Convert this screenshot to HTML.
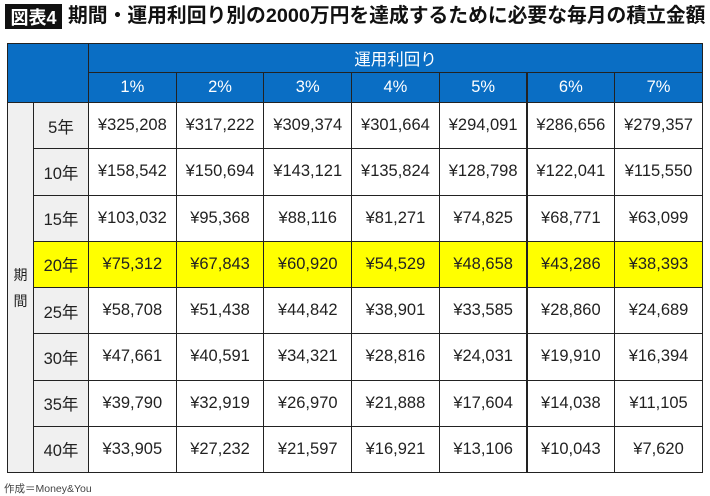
<!DOCTYPE html>
<html><head><meta charset="utf-8">
<style>
body{margin:0;width:710px;height:496px;background:#fff;position:relative;overflow:hidden;font-family:"Liberation Sans","Noto Sans CJK JP",sans-serif;}
.c{position:absolute;box-sizing:border-box;display:flex;align-items:center;justify-content:center;border:1.5px solid #222;font-size:16.5px;color:#222;}
.h{background:#0a6ec4;color:#fff;border-color:#222;}
</style></head><body>
<div style="position:absolute;left:5px;top:4px;width:57px;height:25px;background:#111;color:#fff;font-size:18px;font-weight:bold;display:flex;align-items:center;justify-content:center;">図表4</div>
<div style="position:absolute;left:68px;top:3px;font-size:19.8px;color:#111;font-weight:bold;line-height:27px;white-space:nowrap;">期間・運用利回り別の2000万円を達成するために必要な毎月の積立金額</div>
<div id="tbl" style="position:absolute;left:0;top:0;"></div>
<div style="position:absolute;left:4px;top:481px;font-size:10.5px;color:#444;">作成＝Money&amp;You</div>
<script>
const rates=["1%","2%","3%","4%","5%","6%","7%"];
const periods=["5年","10年","15年","20年","25年","30年","35年","40年"];
const values=[
["¥325,208","¥317,222","¥309,374","¥301,664","¥294,091","¥286,656","¥279,357"],
["¥158,542","¥150,694","¥143,121","¥135,824","¥128,798","¥122,041","¥115,550"],
["¥103,032","¥95,368","¥88,116","¥81,271","¥74,825","¥68,771","¥63,099"],
["¥75,312","¥67,843","¥60,920","¥54,529","¥48,658","¥43,286","¥38,393"],
["¥58,708","¥51,438","¥44,842","¥38,901","¥33,585","¥28,860","¥24,689"],
["¥47,661","¥40,591","¥34,321","¥28,816","¥24,031","¥19,910","¥16,394"],
["¥39,790","¥32,919","¥26,970","¥21,888","¥17,604","¥14,038","¥11,105"],
["¥33,905","¥27,232","¥21,597","¥16,921","¥13,106","¥10,043","¥7,620"]];
const highlight="20年";
const T=document.getElementById('tbl');
const L=7,C0=33,C1=88,CW=87.7,TOP=43,H1=29,H2=30,RH=46.25;
function cell(x,y,w,h,txt,cls,bg,name){
 const d=document.createElement('div');
 d.className='c '+(cls||'');
 d.style.left=x+'px';d.style.top=y+'px';d.style.width=(w+1)+'px';d.style.height=(h+1)+'px';
 if(bg)d.style.background=bg;
 d.textContent=txt;
 
 
 T.appendChild(d);return d;
}
const right=C1+CW*rates.length;
cell(L,TOP,C1-L,H1+H2,'','h',null,'header-corner');
cell(C1,TOP,right-C1,H1,'運用利回り','h',null,'rate-group-header');
rates.forEach((r,i)=>cell(C1+CW*i,TOP+H1,CW,H2,r,'h',null,'rate-header-'+(i+1)));
const y0=TOP+H1+H2;
const pc=cell(L,y0,C0-L,RH*periods.length,'期\n間','', '#f0f0f0','period-group-label');
pc.style.whiteSpace='pre';pc.style.lineHeight='26px';pc.style.fontSize='14px';
periods.forEach((p,j)=>{
 const y=y0+RH*j, hl=p===highlight;
 cell(C0,y,C1-C0,RH,p,'',hl?'#ffff00':'#f0f0f0','period-label-'+p);
 values[j].forEach((v,i)=>cell(C1+CW*i,y,CW,RH,v,'',hl?'#ffff00':'#fff','value-'+p+'-'+rates[i]));
});
</script>
</body></html>
